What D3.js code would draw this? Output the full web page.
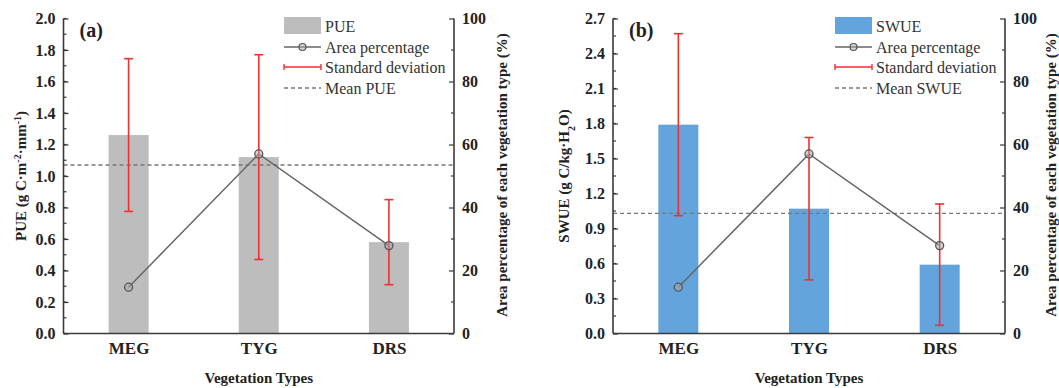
<!DOCTYPE html>
<html><head><meta charset="utf-8">
<script src="https://cdn.jsdelivr.net/npm/d3@7"></script>
<style>
body{margin:0;background:#fff;}
svg{display:block;font-family:"Liberation Serif","Times New Roman",serif;}
</style></head>
<body><svg id="chart" width="1059" height="388"></svg>
<script>
const categories = ["MEG", "TYG", "DRS"];
const pueValues = [1.26, 1.12, 0.58];
const pueSd = [0.485, 0.65, 0.27];
const pueMean = 1.07;
const swueValues = [1.79, 1.07, 0.59];
const swueSd = [0.78, 0.61, 0.52];
const swueMean = 1.03;
const areaPercent = [14.7, 57.0, 27.9];
const pueTicks = [0, 0.2, 0.4, 0.6, 0.8, 1.0, 1.2, 1.4, 1.6, 1.8, 2.0];
const swueTicks = [0, 0.3, 0.6, 0.9, 1.2, 1.5, 1.8, 2.1, 2.4, 2.7];
const areaTicks = [0, 20, 40, 60, 80, 100];

const svg = d3.select("#chart");
const axisColor = "#3a3a3a";
const textColor = "#222";

function drawPanel(cfg) {
  const x = d3.scalePoint().domain(categories).range([cfg.x0, cfg.x1]).padding(0.5);
  const y = d3.scaleLinear().domain([0, cfg.yMax]).range([333.5, 18.5]);
  const y2 = d3.scaleLinear().domain([0, 100]).range([333.5, 18.5]);
  const g = svg.append("g");
  const bw = 40;

  // bars
  g.selectAll(".bar").data(cfg.values).join("rect")
    .attr("x", (d, i) => x(categories[i]) - bw / 2)
    .attr("width", bw)
    .attr("y", d => y(d))
    .attr("height", d => y(0) - y(d))
    .attr("fill", cfg.barColor);

  // mean line
  g.append("line").attr("x1", cfg.x0).attr("x2", cfg.x1)
    .attr("y1", y(cfg.mean)).attr("y2", y(cfg.mean))
    .attr("stroke", "#777").attr("stroke-width", 1.3).attr("stroke-dasharray", "4,3");

  // area percentage line
  const line = d3.line().x((d, i) => x(categories[i])).y(d => y2(d));
  g.append("path").datum(areaPercent).attr("d", line)
    .attr("fill", "none").attr("stroke", "#666").attr("stroke-width", 1.5);

  // error bars
  cfg.values.forEach((v, i) => {
    const cx = x(categories[i]);
    const top = y(v + cfg.sd[i]), bot = y(v - cfg.sd[i]);
    g.append("line").attr("x1", cx).attr("x2", cx).attr("y1", top).attr("y2", bot)
      .attr("stroke", "#ee3030").attr("stroke-width", 1.6);
    [top, bot].forEach(yy => g.append("line").attr("x1", cx - 4.5).attr("x2", cx + 4.5)
      .attr("y1", yy).attr("y2", yy).attr("stroke", "#ee3030").attr("stroke-width", 1.6));
  });

  // markers
  g.selectAll(".pt").data(areaPercent).join("circle")
    .attr("cx", (d, i) => x(categories[i])).attr("cy", d => y2(d)).attr("r", 4)
    .attr("fill", "#aaa").attr("fill-opacity", 0.5).attr("stroke", "#555").attr("stroke-width", 1.3);

  // left axis
  const minorLeft = d3.range(0, cfg.yMax + 1e-9, cfg.minorStep);
  const la = g.append("g").attr("transform", `translate(${cfg.x0},0)`);
  la.call(d3.axisLeft(y).tickValues(cfg.ticks).tickSize(-5).tickPadding(8)
    .tickFormat(d => d.toFixed(1)));
  la.selectAll(".minor").data(minorLeft).join("line").attr("class", "minor")
    .attr("x1", 0).attr("x2", 3).attr("y1", d => y(d)).attr("y2", d => y(d))
    .attr("stroke", axisColor).attr("stroke-width", 1.2);
  la.select(".domain").attr("d", `M0,${y(cfg.yMax)}V${y(0)}`);

  // right axis
  const ra = g.append("g").attr("transform", `translate(${cfg.x1},0)`);
  ra.call(d3.axisRight(y2).tickValues(areaTicks).tickSize(-5).tickPadding(8));
  ra.selectAll(".minor").data(d3.range(10, 100, 20)).join("line").attr("class", "minor")
    .attr("x1", 0).attr("x2", -3).attr("y1", d => y2(d)).attr("y2", d => y2(d))
    .attr("stroke", axisColor).attr("stroke-width", 1.2);
  ra.select(".domain").attr("d", `M0,${y2(100)}V${y2(0)}`);

  // bottom axis
  const ba = g.append("g").attr("transform", `translate(0,${y(0)})`);
  ba.call(d3.axisBottom(x).tickSize(0).tickPadding(8));
  ba.select(".domain").attr("d", `M${cfg.x0},0H${cfg.x1}`);

  [la, ra, ba].forEach(a => {
    a.select(".domain").attr("stroke", axisColor).attr("stroke-width", 1.6);
    a.selectAll(".tick line").attr("stroke", axisColor).attr("stroke-width", 1.2);
    a.selectAll("text").attr("fill", textColor).attr("font-family", "Liberation Serif")
      .attr("font-weight", "bold").attr("font-size", 16);
  });
  ba.selectAll("text").attr("font-size", 17);

  // axis titles
  const lt = g.append("text")
    .attr("transform", `translate(${cfg.leftTitleX},176) rotate(-90)`)
    .attr("text-anchor", "middle").attr("font-weight", "bold").attr("font-size", 15)
    .attr("fill", textColor);
  cfg.leftTitle(lt);

  g.append("text")
    .attr("transform", `translate(${cfg.rightTitleX},175) rotate(-90)`)
    .attr("text-anchor", "middle").attr("dominant-baseline", "central")
    .attr("font-weight", "bold").attr("font-size", 15).attr("fill", textColor)
    .text("Area percentage of each vegetation type (%)");

  g.append("text").attr("x", (cfg.x0 + cfg.x1) / 2).attr("y", 383)
    .attr("text-anchor", "middle").attr("font-weight", "bold").attr("font-size", 15)
    .attr("fill", textColor).text("Vegetation Types");

  g.append("text").attr("x", cfg.x0 + 16).attr("y", 37)
    .attr("font-weight", "bold").attr("font-size", 20).attr("fill", textColor)
    .text(cfg.panel);

  // legend
  const lx = cfg.legendX, lw = 37, tx = lx + lw + 4;
  const rows = [26, 47, 67, 88];
  const lg = g.append("g");
  lg.append("rect").attr("x", lx).attr("y", rows[0] - 9).attr("width", lw).attr("height", 17)
    .attr("fill", cfg.barColor);
  lg.append("line").attr("x1", lx).attr("x2", lx + lw).attr("y1", rows[1]).attr("y2", rows[1])
    .attr("stroke", "#666").attr("stroke-width", 1.5);
  lg.append("circle").attr("cx", lx + lw / 2).attr("cy", rows[1]).attr("r", 3.5)
    .attr("fill", "#aaa").attr("fill-opacity", 0.5).attr("stroke", "#555").attr("stroke-width", 1.2);
  lg.append("line").attr("x1", lx).attr("x2", lx + lw).attr("y1", rows[2]).attr("y2", rows[2])
    .attr("stroke", "#ee3030").attr("stroke-width", 1.6);
  [lx, lx + lw].forEach(xx => lg.append("line").attr("x1", xx).attr("x2", xx)
    .attr("y1", rows[2] - 3).attr("y2", rows[2] + 3).attr("stroke", "#ee3030").attr("stroke-width", 1.4));
  lg.append("line").attr("x1", lx).attr("x2", lx + lw).attr("y1", rows[3]).attr("y2", rows[3])
    .attr("stroke", "#777").attr("stroke-width", 1.3).attr("stroke-dasharray", "4,3");
  const labels = [cfg.name, "Area percentage", "Standard deviation", "Mean " + cfg.name];
  labels.forEach((t, i) => lg.append("text").attr("x", tx).attr("y", rows[i])
    .attr("dominant-baseline", "central").attr("font-size", 16).attr("fill", "#333").text(t));
}

drawPanel({
  x0: 63.5, x1: 454, yMax: 2.0, ticks: pueTicks, minorStep: 0.1,
  values: pueValues, sd: pueSd, mean: pueMean, barColor: "#bdbdbd",
  name: "PUE", panel: "(a)", legendX: 284, leftTitleX: 26, rightTitleX: 502,
  leftTitle: t => {
    t.append("tspan").text("PUE (g C·m");
    t.append("tspan").attr("baseline-shift", "super").attr("font-size", 10).text("-2");
    t.append("tspan").text("·mm");
    t.append("tspan").attr("baseline-shift", "super").attr("font-size", 10).text("-1");
    t.append("tspan").text(")");
  }
});

drawPanel({
  x0: 613, x1: 1005, yMax: 2.7, ticks: swueTicks, minorStep: 0.15,
  values: swueValues, sd: swueSd, mean: swueMean, barColor: "#63a4dc",
  name: "SWUE", panel: "(b)", legendX: 835, leftTitleX: 569, rightTitleX: 1051,
  leftTitle: t => {
    t.append("tspan").text("SWUE (g C/kg·H");
    t.append("tspan").attr("baseline-shift", "sub").attr("font-size", 10).text("2");
    t.append("tspan").text("O)");
  }
});
</script></body></html>
